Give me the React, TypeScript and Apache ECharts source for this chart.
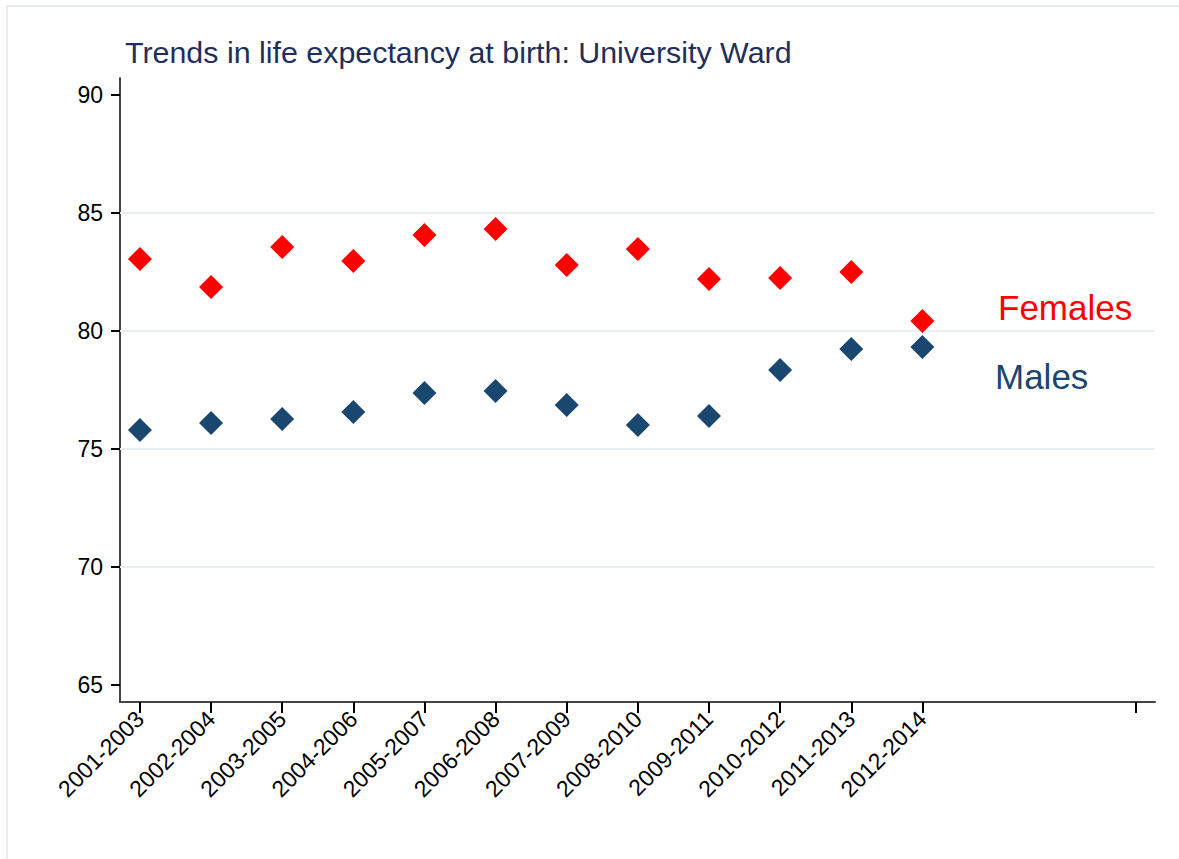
import React, { useEffect, useRef } from "react";
import * as echarts from "echarts";

const periods = [
  "2001-2003", "2002-2004", "2003-2005", "2004-2006", "2005-2007", "2006-2008",
  "2007-2009", "2008-2010", "2009-2011", "2010-2012", "2011-2013", "2012-2014",
];
const females = [83.05, 81.86, 83.56, 82.97, 84.07, 84.32, 82.8, 83.47, 82.2, 82.25, 82.5, 80.42];
const males = [75.8, 76.1, 76.27, 76.57, 77.37, 77.46, 76.86, 76.02, 76.4, 78.35, 79.24, 79.32];
const yTicks = [65, 70, 75, 80, 85, 90];
const gridValues = [70, 75, 80, 85];
const xTickPositions = [1, 2, 3, 4, 5, 6, 7, 8, 9, 10, 11, 12, 15];
const xLabelPositions = [1, 2, 3, 4, 5, 6, 7, 8, 9, 10, 11, 12];

const FONT = "'Liberation Sans', Arial, Helvetica, sans-serif";

export default function App() {
  const ref = useRef<HTMLDivElement>(null);
  useEffect(() => {
    if (!ref.current) return;
    const chart = echarts.init(ref.current, null, { renderer: "svg" });
    chart.setOption({
      animation: false,
      backgroundColor: "#ffffff",
      textStyle: { fontFamily: FONT },
      grid: { left: 120, top: 78, right: 24, bottom: 157 },
      graphic: [
        {
          type: "rect",
          shape: { x: 7, y: 6, width: 1185, height: 870 },
          style: { fill: "none", stroke: "#e6eeee", lineWidth: 2 },
          silent: true,
        },
        {
          type: "text",
          left: 125,
          top: 37,
          style: {
            text: "Trends in life expectancy at birth: University Ward",
            fontSize: 30.4,
            fontFamily: FONT,
            fill: "#1f2f5c",
          },
        },
        {
          type: "text",
          left: 998,
          top: 290,
          style: { text: "Females", fontSize: 35, fontFamily: FONT, fill: "#ff0000" },
        },
        {
          type: "text",
          left: 995,
          top: 359,
          style: { text: "Males", fontSize: 35, fontFamily: FONT, fill: "#1a476f" },
        },
      ],
      xAxis: {
        type: "value",
        min: 0.72,
        max: 15.27,
        splitLine: { show: false },
        axisLine: { show: true, onZero: false, lineStyle: { color: "#444444", width: 2 } },
        axisTick: {
          show: true,
          length: 11,
          customValues: xTickPositions,
          lineStyle: { color: "#000000", width: 2 },
        },
        axisLabel: {
          customValues: xLabelPositions,
          rotate: 45,
          margin: 13,
          fontSize: 23,
          color: "#000000",
          fontFamily: FONT,
          formatter: (v: number) => periods[Math.round(v) - 1] ?? "",
        },
      },
      yAxis: {
        type: "value",
        min: 64.28,
        max: 90.72,
        splitLine: { show: false },
        axisLine: { show: true, onZero: false, lineStyle: { color: "#444444", width: 2 } },
        axisTick: {
          show: true,
          length: 9,
          customValues: yTicks,
          lineStyle: { color: "#000000", width: 2 },
        },
        axisLabel: {
          customValues: yTicks,
          margin: 17,
          fontSize: 23,
          color: "#000000",
          fontFamily: FONT,
        },
      },
      series: [
        {
          type: "scatter",
          name: "Females",
          symbol: "diamond",
          symbolSize: 24,
          itemStyle: { color: "#ff0000", opacity: 1 },
          data: females.map((v, i) => [i + 1, v]),
          z: 3,
          markLine: {
            silent: true,
            symbol: "none",
            label: { show: false },
            lineStyle: { color: "#e6eff1", width: 2, type: "solid", opacity: 1 },
            data: gridValues.map((v) => ({ yAxis: v })),
            z: 1,
          },
        },
        {
          type: "scatter",
          name: "Males",
          symbol: "diamond",
          symbolSize: 24,
          itemStyle: { color: "#1a476f", opacity: 1 },
          data: males.map((v, i) => [i + 1, v]),
          z: 3,
        },
      ],
    });
    return () => chart.dispose();
  }, []);
  return (
    <div
      ref={ref}
      style={{ position: "fixed", left: 0, top: 0, width: 1179, height: 859 }}
    />
  );
}
